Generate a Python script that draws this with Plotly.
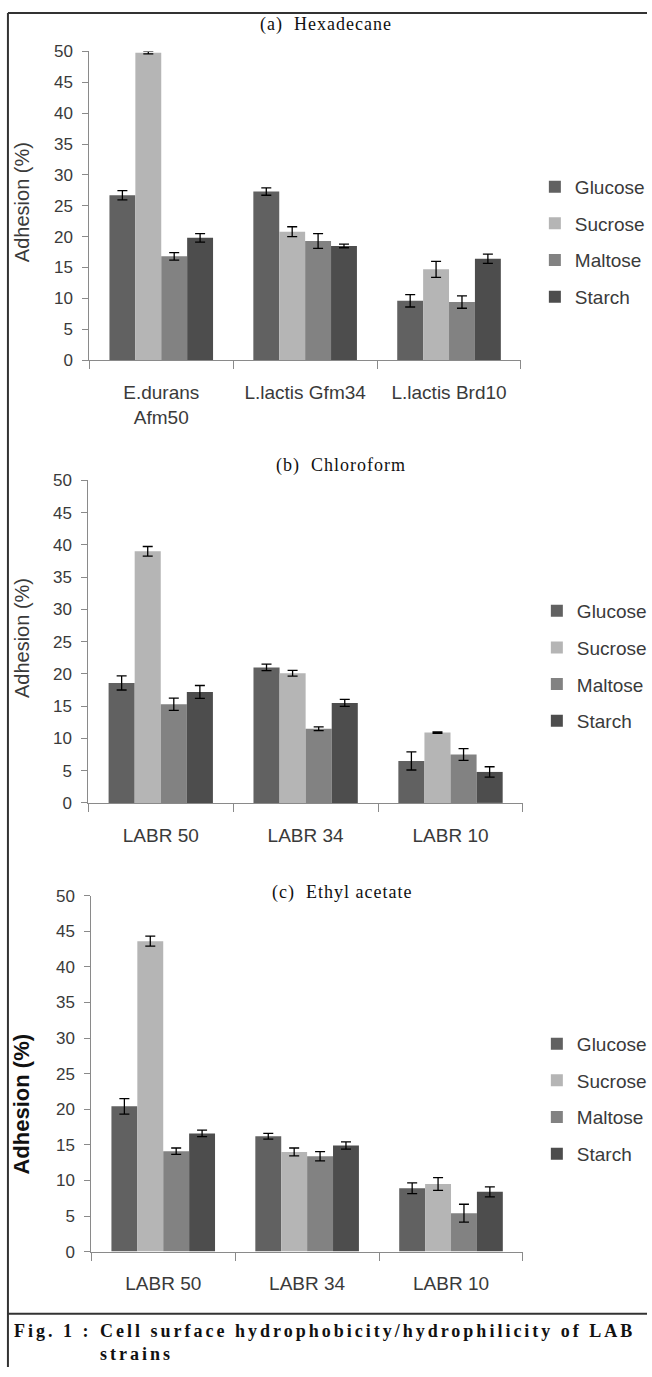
import plotly.graph_objects as go

W, H = 652, 1377

sugars = ["Glucose", "Sucrose", "Maltose", "Starch"]
colors = ["#616161", "#b5b5b5", "#828282", "#4d4d4d"]

cats_a = ["E.durans<br>Afm50", "L.lactis Gfm34", "L.lactis Brd10"]
cats_b = ["LABR 50", "LABR 34", "LABR 10"]
cats_c = ["LABR 50", "LABR 34", "LABR 10"]

# (a) Hexadecane
a_glucose = [26.7, 27.3, 9.6]
a_sucrose = [49.8, 20.8, 14.7]
a_maltose = [16.8, 19.3, 9.4]
a_starch = [19.8, 18.5, 16.4]
a_glucose_err = [0.75, 0.6, 1.0]
a_sucrose_err = [0.2, 0.8, 1.3]
a_maltose_err = [0.6, 1.2, 1.0]
a_starch_err = [0.7, 0.3, 0.75]

# (b) Chloroform
b_glucose = [18.6, 21.0, 6.5]
b_sucrose = [39.0, 20.1, 10.9]
b_maltose = [15.3, 11.5, 7.5]
b_starch = [17.2, 15.5, 4.8]
b_glucose_err = [1.1, 0.5, 1.4]
b_sucrose_err = [0.75, 0.45, 0.1]
b_maltose_err = [0.95, 0.3, 0.9]
b_starch_err = [1.0, 0.55, 0.8]

# (c) Ethyl acetate
c_glucose = [20.4, 16.2, 8.9]
c_sucrose = [43.6, 14.0, 9.5]
c_maltose = [14.1, 13.4, 5.4]
c_starch = [16.6, 14.9, 8.4]
c_glucose_err = [1.1, 0.4, 0.75]
c_sucrose_err = [0.7, 0.55, 0.9]
c_maltose_err = [0.45, 0.65, 1.25]
c_starch_err = [0.45, 0.5, 0.7]

y_ticks = [0, 5, 10, 15, 20, 25, 30, 35, 40, 45, 50]

panels = [
    dict(cats=cats_a, vals=[a_glucose, a_sucrose, a_maltose, a_starch],
         errs=[a_glucose_err, a_sucrose_err, a_maltose_err, a_starch_err],
         xa="x", ya="y", leg="legend"),
    dict(cats=cats_b, vals=[b_glucose, b_sucrose, b_maltose, b_starch],
         errs=[b_glucose_err, b_sucrose_err, b_maltose_err, b_starch_err],
         xa="x2", ya="y2", leg="legend2"),
    dict(cats=cats_c, vals=[c_glucose, c_sucrose, c_maltose, c_starch],
         errs=[c_glucose_err, c_sucrose_err, c_maltose_err, c_starch_err],
         xa="x3", ya="y3", leg="legend3"),
]


def px(x):
    return x / W


def py(y):
    return 1 - y / H


fig = go.Figure()
for pi, p in enumerate(panels):
    for si, s in enumerate(sugars):
        fig.add_trace(go.Bar(
            x=p["cats"], y=p["vals"][si], name=s,
            marker=dict(color=colors[si], line=dict(width=0)),
            error_y=dict(type="data", array=p["errs"][si], color="black",
                         thickness=1.3, width=5),
            xaxis=p["xa"], yaxis=p["ya"], legend=p["leg"],
            legendgroup=f"{pi}-{s}",
        ))

sans = "Arial, Liberation Sans, sans-serif"
axis_font = dict(family=sans, size=17, color="#3a3a3a")
cat_font = dict(family=sans, size=19, color="#3a3a3a")

# pixel geometry of each plot area: (x0, x1, y_zero, y_fifty)
geom = [(90, 525, 356, 43), (89, 527, 805, 478), (92, 527, 1260, 899)]

layout = dict(
    width=W, height=H, margin=dict(l=0, r=0, t=0, b=0),
    paper_bgcolor="white", plot_bgcolor="white",
    barmode="group", bargap=0.28, bargroupgap=0,
    showlegend=True,
)
for i, (x0, x1, y0, y1) in enumerate(geom):
    sfx = "" if i == 0 else str(i + 1)
    layout["xaxis" + sfx] = dict(
        domain=[px(x0), px(x1)], anchor="y" + sfx, type="category",
        showline=True, linecolor="#8a8a8a", linewidth=1,
        ticks="outside", tickson="boundaries", ticklen=8, tickcolor="#8a8a8a",
        tickfont=cat_font, showgrid=False, ticklabelstandoff=15,
    )
    layout["yaxis" + sfx] = dict(
        domain=[py(y0), py(y1)], anchor="x" + sfx, range=[0, 50],
        tickvals=y_ticks, showline=True, linecolor="#8a8a8a", linewidth=1,
        ticks="outside", ticklen=6, tickcolor="#8a8a8a", tickfont=axis_font,
        showgrid=False, zeroline=False, ticklabelstandoff=6,
    )

leg_font = dict(family=sans, size=19, color="#3a3a3a")
leg_pos = [(539, 161), (541, 591), (541, 1030)]
for i, (lx, ly) in enumerate(leg_pos):
    key = "legend" if i == 0 else f"legend{i + 1}"
    layout[key] = dict(x=px(lx), y=py(ly), xanchor="left", yanchor="top",
                       font=leg_font, tracegroupgap=9, itemwidth=30,
                       bgcolor="rgba(0,0,0,0)")

fig.update_layout(**layout)

serif = "Times New Roman, Liberation Serif, serif"
titles = [("(a)  Hexadecane", 329, 16), ("(b)  Chloroform", 344, 463),
          ("(c)  Ethyl acetate", 345, 896)]
for t, x, y in titles:
    fig.add_annotation(text=f'<span style="letter-spacing:1px">{t}</span>',
                       x=px(x), y=py(y), xref="paper", yref="paper",
                       showarrow=False, xanchor="center", yanchor="middle",
                       font=dict(family=serif, size=18, color="#111"))

ytitles = [("Adhesion (%)", 22, 196, 20, "#3a3a3a"),
           ("Adhesion (%)", 22, 638, 20, "#3a3a3a"),
           ("<b>Adhesion (%)</b>", 22, 1110, 22, "#111")]
for t, x, y, s, c in ytitles:
    fig.add_annotation(text=t, x=px(x), y=py(y), xref="paper", yref="paper",
                       showarrow=False, textangle=-90, xanchor="center",
                       yanchor="middle", font=dict(family=sans, size=s, color=c))

cap_font = dict(family=serif, size=18, color="#111")
ls = '<b><span style="letter-spacing:3px">{}</span></b>'
fig.add_annotation(text=ls.format("Fig. 1 :"), x=px(12), y=py(1341),
                   xref="paper", yref="paper", showarrow=False,
                   xanchor="left", yanchor="middle", font=cap_font)
fig.add_annotation(
    text=ls.format("Cell surface hydrophobicity/hydrophilicity of LAB"),
    x=px(99), y=py(1341), xref="paper", yref="paper", showarrow=False,
    xanchor="left", yanchor="middle", font=cap_font)
fig.add_annotation(
    text=ls.format("strains"),
    x=px(99), y=py(1364), xref="paper", yref="paper", showarrow=False,
    xanchor="left", yanchor="middle", font=cap_font)

line = dict(color="#333", width=2)
fig.add_shape(type="line", xref="paper", yref="paper", x0=px(8), x1=1,
              y0=py(4), y1=py(4), line=line)
fig.add_shape(type="line", xref="paper", yref="paper", x0=px(8), x1=px(8),
              y0=py(4), y1=0, line=line)
fig.add_shape(type="line", xref="paper", yref="paper", x0=px(8), x1=1,
              y0=py(1323), y1=py(1323), line=line)

fig.write_html("out.html", config={"displayModeBar": False},
               post_script="document.body.style.margin='0';"
                           "document.body.style.overflow='hidden';")
